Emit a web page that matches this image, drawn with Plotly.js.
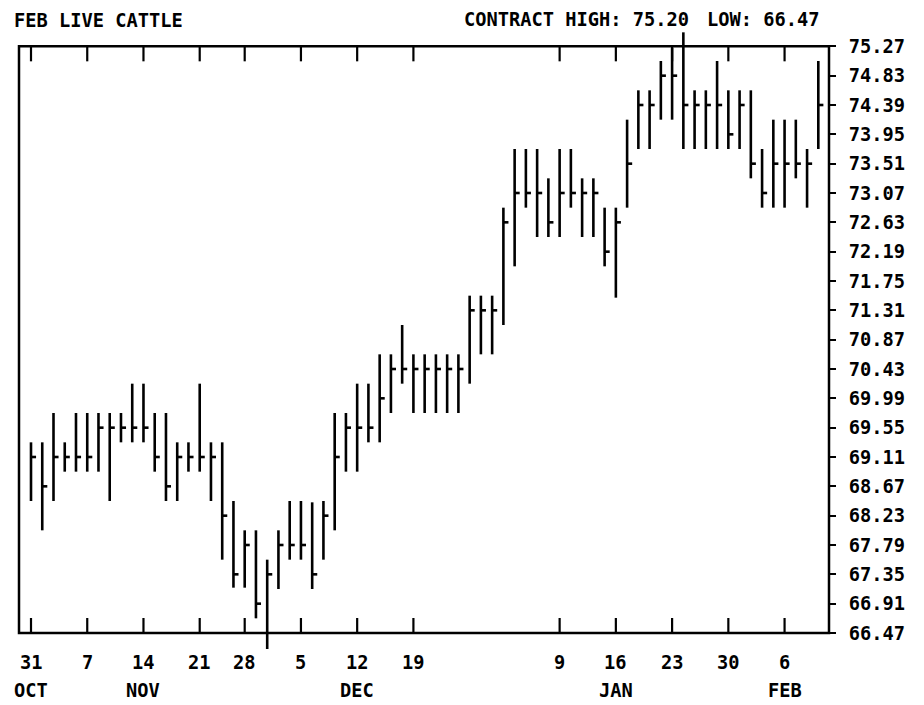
<!DOCTYPE html>
<html>
<head>
<meta charset="utf-8">
<script src="https://cdn.plot.ly/plotly-3.0.1.min.js"></script>
<style>html,body{margin:0;padding:0;background:#fff;}#chart{width:924px;height:705px;}</style>
</head>
<body>
<div id="chart"></div>
<script>
// Trading days (1988-89), Oct 31 .. Feb 9
const days = ['10-31','11-01','11-02','11-03','11-04',
  '11-07','11-08','11-09','11-10','11-11',
  '11-14','11-15','11-16','11-17','11-18',
  '11-21','11-22','11-23','11-25',
  '11-28','11-29','11-30','12-01','12-02',
  '12-05','12-06','12-07','12-08','12-09',
  '12-12','12-13','12-14','12-15','12-16',
  '12-19','12-20','12-21','12-22','12-23',
  '12-27','12-28','12-29','12-30',
  '01-03','01-04','01-05','01-06',
  '01-09','01-10','01-11','01-12','01-13',
  '01-16','01-17','01-18','01-19','01-20',
  '01-23','01-24','01-25','01-26','01-27',
  '01-30','01-31','02-01','02-02','02-03',
  '02-06','02-07','02-08','02-09'];

const high = [69.33,69.33,69.77,69.33,69.77, 69.77,69.77,69.77,69.77,70.21,
  70.21,69.77,69.77,69.33,69.33, 70.21,69.33,69.33,68.45,
  68.01,68.01,67.57,68.01,68.45, 68.45,68.43,68.45,69.77,69.77,
  70.21,70.21,70.65,70.65,71.09, 70.65,70.65,70.65,70.65,70.65,
  71.53,71.53,71.53,72.85, 73.73,73.73,73.73,73.29,
  73.73,73.73,73.29,73.29,72.85, 72.85,74.17,74.61,74.61,75.05,
  75.25,75.48,74.61,74.61,75.05, 74.61,74.61,74.61,73.73,74.17,
  74.17,74.17,73.73,75.05];
const low = [68.45,68.01,68.45,68.89,68.89, 68.89,68.89,68.45,69.33,69.33,
  69.33,68.89,68.45,68.45,68.89, 68.89,68.45,67.57,67.15,
  67.15,66.69,66.23,67.13,67.57, 67.57,67.13,67.57,68.01,68.89,
  68.89,69.33,69.33,69.77,70.21, 69.77,69.77,69.77,69.77,69.77,
  70.21,70.65,70.65,71.09, 71.97,72.85,72.41,72.41,
  72.41,72.85,72.41,72.41,71.97, 71.50,72.85,73.73,73.73,74.17,
  74.17,73.73,73.73,73.73,73.73, 73.73,73.73,73.29,72.85,72.85,
  72.85,73.29,72.85,73.73];
const close = [69.11,68.67,69.11,69.11,69.11, 69.11,69.55,69.55,69.55,69.55,
  69.55,69.11,68.67,69.11,69.11, 69.11,69.11,68.23,67.35,
  67.79,66.91,67.35,67.79,67.79, 67.79,67.35,68.23,69.11,69.55,
  69.55,69.55,69.99,70.43,70.43, 70.43,70.43,70.43,70.43,70.43,
  71.31,71.31,71.31,72.63, 73.07,73.07,73.07,72.63,
  73.07,73.07,73.07,73.07,72.19, 72.63,73.51,74.39,74.39,74.83,
  74.83,74.39,74.39,74.39,74.39, 73.95,74.39,73.51,73.07,73.51,
  73.51,73.51,73.51,74.39];

const weekTicks  = ['10-31','11-07','11-14','11-21','11-28','12-05','12-12','12-19','01-09','01-16','01-23','01-30','02-06'];
const weekLabels = ['31','7','14','21','28','5','12','19','9','16','23','30','6'];
const monthTicks  = ['10-31','11-14','12-12','01-16','02-06'];
const monthLabels = ['OCT','NOV','DEC','JAN','FEB'];
const priceTicks = [75.27,74.83,74.39,73.95,73.51,73.07,72.63,72.19,71.75,71.31,70.87,
  70.43,69.99,69.55,69.11,68.67,68.23,67.79,67.35,66.91,66.47];
const chartTitle = 'FEB LIVE CATTLE';
const contractHigh = 75.20;
const contractLow = 66.47;

const FONT = "'DejaVu Sans Mono', 'Liberation Mono', monospace";
const FS = 18.7;
const TICKW = 0.45; // close tick length in day units

const xs = [], ys = [];
days.forEach((d, i) => {
  xs.push(i, i, null, i, i + TICKW, null);
  ys.push(low[i], high[i], null, close[i], close[i], null);
});

const weekIdx = weekTicks.map(d => days.indexOf(d));
const monthIdx = monthTicks.map(d => days.indexOf(d));
const yTop = priceTicks[0], yBot = priceTicks[priceTicks.length - 1];
const tf = {family: FONT, size: FS, color: '#000', weight: 'bold'};

const shapes = [{
  type: 'rect', xref: 'paper', yref: 'y', x0: 0, x1: 1, y0: yBot, y1: yTop,
  line: {color: '#000', width: 2.5}, layer: 'above'
}];
weekIdx.forEach(ix => {
  shapes.push({type: 'line', xref: 'x', yref: 'y', ysizemode: 'pixel', yanchor: yBot,
    x0: ix, x1: ix, y0: 0, y1: 15, line: {color: '#000', width: 2.2}});
  shapes.push({type: 'line', xref: 'x', yref: 'y', ysizemode: 'pixel', yanchor: yTop,
    x0: ix, x1: ix, y0: 0, y1: -15, line: {color: '#000', width: 2.2}});
});

const annotations = [];
weekIdx.forEach((ix, k) => annotations.push({
  xref: 'x', yref: 'paper', x: ix, y: -0.0192, yanchor: 'middle', xanchor: 'center',
  text: weekLabels[k], showarrow: false, font: tf
}));
monthIdx.forEach((ix, k) => annotations.push({
  xref: 'x', yref: 'paper', x: ix, y: -0.0625, yanchor: 'middle', xanchor: 'center',
  text: monthLabels[k], showarrow: false, font: tf
}));
annotations.push({
  xref: 'paper', yref: 'paper', x: (462 - 19) / 810, y: 1.0115, xanchor: 'left', yanchor: 'middle',
  text: 'CONTRACT HIGH: ' + contractHigh.toFixed(2), showarrow: false, font: tf
});
annotations.push({
  xref: 'paper', yref: 'paper', x: (822 - 19) / 810, y: 1.0115, xanchor: 'right', yanchor: 'middle',
  text: 'LOW: ' + contractLow.toFixed(2), showarrow: false, font: tf
});

const trace = {
  type: 'scatter', mode: 'lines', x: xs, y: ys,
  line: {color: '#000', width: 2.6}, connectgaps: false,
  hoverinfo: 'skip', showlegend: false
};

const layout = {
  width: 924, height: 705,
  margin: {l: 19, r: 95, t: 27.17, b: 54, pad: 0},
  paper_bgcolor: '#fff', plot_bgcolor: '#fff',
  showlegend: false,
  title: {
    text: chartTitle, xref: 'container', yref: 'container',
    x: 14 / 924, xanchor: 'left', y: 1 - 20 / 705, yanchor: 'middle', font: tf
  },
  xaxis: {
    range: [-1.067, 70.95], showgrid: false, zeroline: false, showline: false,
    ticks: '', showticklabels: false, fixedrange: true
  },
  yaxis: {
    range: [66.20, 75.56], side: 'right', showgrid: false, zeroline: false, showline: false,
    ticks: 'outside', ticklen: 6, tickwidth: 2, tickcolor: '#000',
    tickmode: 'array', tickvals: priceTicks, ticktext: priceTicks.map(v => v.toFixed(2)),
    tickfont: tf, ticklabelstandoff: 9, fixedrange: true
  },
  shapes: shapes,
  annotations: annotations
};

Plotly.newPlot('chart', [trace], layout, {displayModeBar: false, staticPlot: true});
</script>
</body>
</html>
